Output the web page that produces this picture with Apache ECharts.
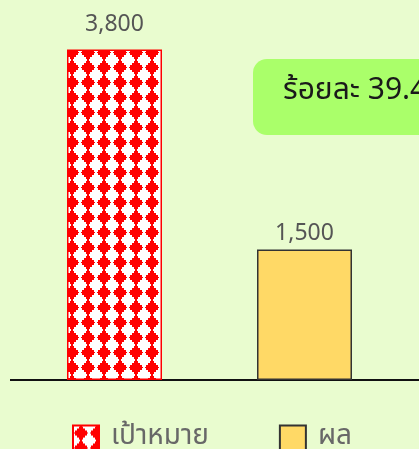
<!DOCTYPE html>
<html>
<head>
<meta charset="utf-8">
<script src="https://cdn.jsdelivr.net/npm/echarts@6/dist/echarts.min.js"></script>
<style>
  html, body { margin: 0; padding: 0; background: #e9fccf; }
  #chart { width: 419px; height: 449px; }
</style>
</head>
<body>
<div id="chart"></div>
<script>
const categories = ['ปี']
const seriesNames = ['เป้าหมาย', 'ผล']
const targetValues = [3800]
const resultValues = [1500]

const FONT = '"Noto Sans Thai", "Noto Sans Thai UI", "Noto Sans", sans-serif'

// red stepped diamonds on white for the target bar
function diamondTile() {
  const c = document.createElement('canvas')
  c.width = 16
  c.height = 15
  const ctx = c.getContext('2d')
  ctx.fillStyle = '#ffffff'
  ctx.fillRect(0, 0, 16, 15)
  ctx.fillStyle = '#ff0000'
  const rows = [2, 4, 4, 8, 8, 12, 12, 14, 12, 12, 8, 8, 4, 4, 2]
  for (let i = 0; i < rows.length; i++) {
    ctx.fillRect(8 - rows[i] / 2, i, rows[i], 1)
  }
  return c
}

const pct = (resultValues[0] / targetValues[0] * 100).toFixed(2)

const chart = echarts.init(document.getElementById('chart'))
chart.setOption({
  backgroundColor: '#e9fccf',
  textStyle: { fontFamily: FONT },
  grid: { left: 10, right: 10, top: 32, bottom: 69 },
  xAxis: {
    type: 'category',
    data: categories,
    axisLine: { show: false },
    axisTick: { show: false },
    axisLabel: { show: false }
  },
  yAxis: {
    type: 'value',
    min: 0,
    max: 4000,
    show: false
  },
  legend: {
    data: seriesNames,
    icon: 'rect',
    left: 72,
    top: 424,
    padding: 0,
    itemWidth: 26,
    itemHeight: 25,
    itemGap: 70,
    textStyle: { fontSize: 28, color: '#686868', fontFamily: FONT, padding: [0, 0, 0, 7] }
  },
  series: [{
    name: seriesNames[0],
    type: 'bar',
    barWidth: 95,
    barGap: '100%',
    data: targetValues,
    itemStyle: {
      color: { image: diamondTile(), repeat: 'repeat' },
      borderColor: '#ff0000',
      borderWidth: 1.5
    },
    label: {
      show: true,
      position: 'top',
      distance: 12,
      fontSize: 23,
      color: '#555',
      formatter: p => p.value.toLocaleString('en-US')
    }
  }, {
    name: seriesNames[1],
    type: 'bar',
    barWidth: 95,
    data: resultValues,
    itemStyle: {
      color: '#ffd966',
      borderColor: '#333',
      borderWidth: 1.5
    },
    label: {
      show: true,
      position: 'top',
      distance: 3,
      fontSize: 23,
      color: '#555',
      formatter: p => p.value.toLocaleString('en-US')
    }
  }]
})

const baseY = chart.convertToPixel({ yAxisIndex: 0 }, 0)
chart.setOption({
  graphic: [{
    type: 'line',
    shape: { x1: 10, y1: baseY, x2: 419, y2: baseY },
    style: { stroke: '#111', lineWidth: 2 }
  }, {
    type: 'rect',
    left: 253,
    top: 59,
    shape: { width: 200, height: 76, r: 14 },
    style: { fill: '#aaff6a' }
  }, {
    type: 'text',
    left: 283,
    top: 78,
    style: {
      text: 'ร้อยละ ' + pct,
      fontSize: 30,
      fill: '#1a1a1a',
      fontFamily: FONT
    }
  }]
})
</script>
</body>
</html>
